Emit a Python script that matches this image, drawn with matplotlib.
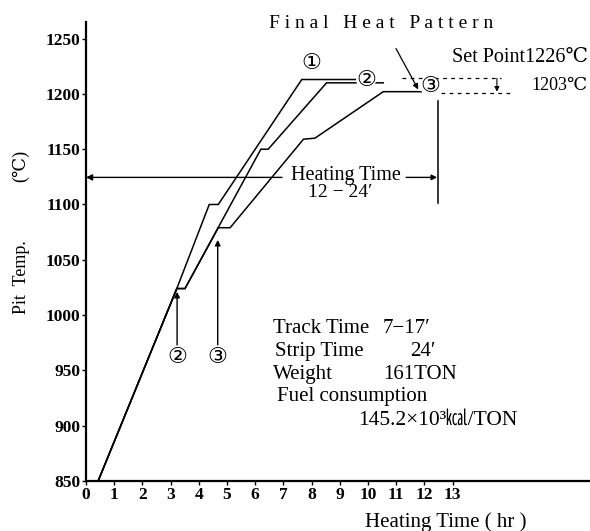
import matplotlib
matplotlib.use("Agg")
import matplotlib.pyplot as plt

plt.rcParams['font.family'] = ['Liberation Serif', 'DejaVu Serif', 'Noto Sans CJK JP']

# ---- data ----
c1_x = [0.43, 3.22, 4.37, 4.69, 7.65, 9.65]
c1_y = [850, 1024, 1100, 1100, 1213, 1213]
c2_x = [0.43, 3.22, 3.51, 6.20, 6.46, 8.53, 10.54]
c2_y = [850, 1024, 1024, 1150, 1150, 1210, 1210]
c3_x = [0.43, 3.22, 3.51, 4.69, 5.11, 7.71, 8.12, 10.54, 11.90]
c3_y = [850, 1024, 1024, 1079, 1079, 1159, 1160, 1202, 1202]

set_upper_x = [11.2, 14.7]
set_upper_y = [1214, 1214]
set_lower_x = [12.6, 15.1]
set_lower_y = [1201, 1201]

x_ticks = list(range(0, 14))
y_ticks = [850, 900, 950, 1000, 1050, 1100, 1150, 1200, 1250]

fig = plt.figure(figsize=(5.90, 5.31), dpi=100)
ax = fig.add_axes([86/590, 1 - 481/531, 1 - 86/590, (481 - 22)/531])
ax.set_xlim(0, 17.87)
ax.set_ylim(850, 1265)

for xs, ys in [(c1_x, c1_y), (c2_x, c2_y), (c3_x, c3_y)]:
    ax.plot(xs, ys, color='black', lw=1.1, solid_joinstyle='miter')

ax.plot(set_upper_x, set_upper_y, color='black', lw=0.9, dashes=(3, 3.5))
ax.plot(set_lower_x, set_lower_y, color='black', lw=0.9, dashes=(3, 3.5))
ax.annotate('', xy=(14.57, 1202), xytext=(14.57, 1214),
            arrowprops=dict(arrowstyle='-|>', color='black', lw=0.8,
                            mutation_scale=7, shrinkA=0, shrinkB=0))

# spines / ticks
for s in ['top', 'right']:
    ax.spines[s].set_visible(False)
for s in ['left', 'bottom']:
    ax.spines[s].set_linewidth(1.6)
ax.set_xticks(x_ticks)
ax.set_yticks(y_ticks)
ax.tick_params(direction='out', length=3, width=1, labelsize=12.5, pad=1)
for lab in ax.get_xticklabels() + ax.get_yticklabels():
    lab.set_fontweight('bold')

# heating time arrows
ax.annotate('', xy=(0.0, 1124.5), xytext=(6.95, 1124.5),
            arrowprops=dict(arrowstyle='-|>', color='black', lw=1.0,
                            mutation_scale=9, shrinkA=0, shrinkB=0))
ax.annotate('', xy=(12.45, 1124.5), xytext=(11.35, 1124.5),
            arrowprops=dict(arrowstyle='-|>', color='black', lw=1.0,
                            mutation_scale=8, shrinkA=0, shrinkB=0))
ax.plot([12.48, 12.48], [1101, 1194], color='black', lw=1.1)
ax.text(9.2, 1126, 'Heating Time', ha='center', va='center', fontsize=14.5)
ax.text(9.0, 1111, '12 − 24′', ha='center', va='center', fontsize=14)

# final heat pattern
fig.text(381/590, 1 - 23/531, 'F i n a l   H e a t   P a t t e r n',
         ha='center', va='center', fontsize=14)
ax.annotate('', xy=(11.78, 1204), xytext=(10.99, 1241),
            arrowprops=dict(arrowstyle='-|>', color='black', lw=0.9,
                            mutation_scale=8, shrinkA=0, shrinkB=0))
ax.text(15.4, 1233, 'Set Point1226℃', ha='center', va='center', fontsize=14.5)
ax.text(16.8, 1208, '1203℃', ha='center', va='center', fontsize=13)

# circled labels
circ_kw = dict(ha='center', va='center', fontsize=16,
               family=['DejaVu Sans', 'Noto Sans CJK JP'],
               bbox=dict(boxstyle='circle,pad=0.0', fc='white', ec='none'))
ax.text(8.0, 1227.5, '①', **circ_kw)
ax.text(9.93, 1213, '②', **circ_kw)
ax.text(12.2, 1207, '③', **circ_kw)
ax.text(3.23, 962, '②', **circ_kw)
ax.text(4.65, 962, '③', **circ_kw)
ax.annotate('', xy=(3.23, 1021), xytext=(3.23, 973),
            arrowprops=dict(arrowstyle='-|>', color='black', lw=1.0,
                            mutation_scale=8, shrinkA=0, shrinkB=0))
ax.annotate('', xy=(4.67, 1068), xytext=(4.67, 973),
            arrowprops=dict(arrowstyle='-|>', color='black', lw=1.0,
                            mutation_scale=8, shrinkA=0, shrinkB=0))

# info block
fs = 15
ax.text(6.63, 988, 'Track Time', ha='left', va='center', fontsize=fs)
ax.text(10.53, 988, '7−17′', ha='left', va='center', fontsize=fs)
ax.text(6.70, 967, 'Strip Time', ha='left', va='center', fontsize=fs)
ax.text(11.5, 967, '24′', ha='left', va='center', fontsize=fs)
ax.text(6.63, 946, 'Weight', ha='left', va='center', fontsize=fs)
ax.text(10.53, 946, '161TON', ha='left', va='center', fontsize=fs)
ax.text(6.77, 926, 'Fuel consumption', ha='left', va='center', fontsize=fs)
ax.text(9.65, 905, '145.2×10³㎉/TON', ha='left', va='center', fontsize=15.5)

# axis labels
fig.text(21/590, 1 - 277/531, 'Pit  Temp.', rotation=90, ha='center',
         va='center', fontsize=13)
fig.text(21/590, 1 - 166/531, '(℃)', rotation=90, ha='center',
         va='center', fontsize=13)
fig.text(446/590, 1 - 522/531, 'Heating Time ( hr )', ha='center',
         va='center', fontsize=15)

fig.savefig('out.png', dpi=100)
